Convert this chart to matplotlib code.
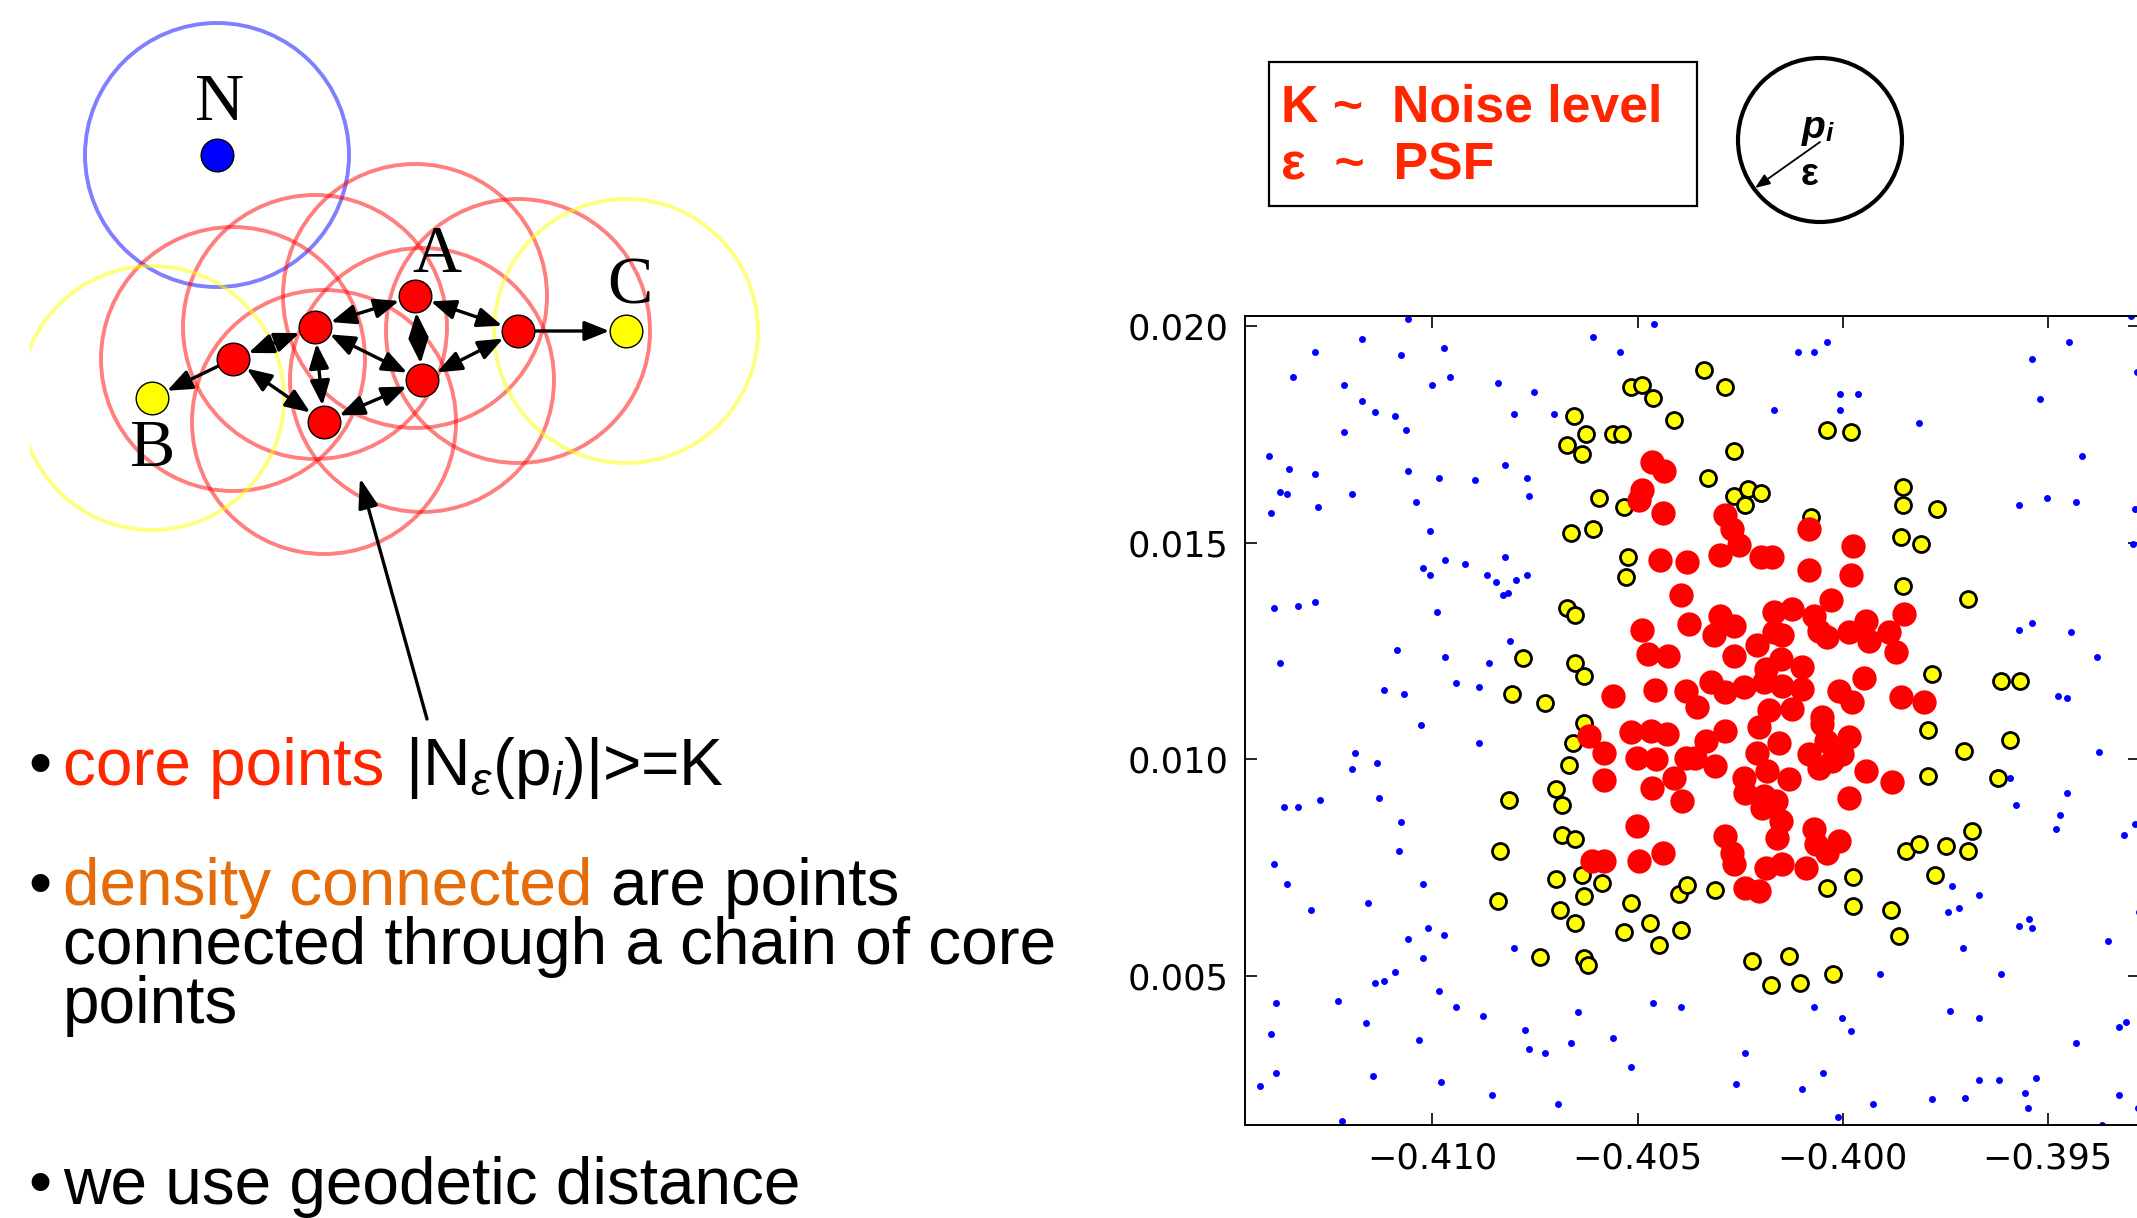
#DBSCAN slide: sketch of core/border/noise points + clustering result

import numpy as np
import matplotlib
matplotlib.use('Agg')
import matplotlib.pyplot as plt
from matplotlib.patches import Circle, Rectangle

plt.rcParams['mathtext.fontset'] = 'custom'
plt.rcParams['mathtext.rm'] = 'Liberation Sans'
plt.rcParams['mathtext.it'] = 'Liberation Sans:italic'
plt.rcParams['mathtext.bf'] = 'Liberation Sans:bold'

# ---- scatter data ----
noise_x = [-0.41060, -0.41172, -0.41286, -0.41076, -0.40973, -0.41339, -0.41216, -0.41000, -0.40957, -0.41172,
           -0.41140, -0.41092, -0.41065, -0.41216, -0.41398, -0.41350, -0.41286, -0.41060, -0.40984, -0.41372,
           -0.41355, -0.41195, -0.41039, -0.41393, -0.41280, -0.41006, -0.40969, -0.40921, -0.41022, -0.41006,
           -0.41387, -0.41328, -0.41286, -0.40990, -0.41372, -0.41087, -0.40969, -0.40942, -0.41118, -0.41070,
           -0.40459, -0.40608, -0.40543, -0.40839, -0.40753, -0.40801, -0.40704, -0.40822, -0.40897, -0.40769,
           -0.40764, -0.40822, -0.40866, -0.40844, -0.40796, -0.40769, -0.40828, -0.40817, -0.40812, -0.40861,
           -0.40887,
           -0.40038, -0.40108, -0.40070, -0.40006, -0.39963, -0.40168, -0.40006,
           -0.39448, -0.39539, -0.39282, -0.39518, -0.39813, -0.39416, -0.39501, -0.39571, -0.39432, -0.39287,
           -0.39292, -0.39298, -0.39571, -0.39539, -0.39443, -0.39379, -0.39475, -0.39453,
           -0.41027, -0.41189, -0.41135, -0.41195, -0.41130, -0.41361, -0.41328, -0.41275, -0.41076, -0.41082,
           -0.41387, -0.41355, -0.41022, -0.41157, -0.41296, -0.41012, -0.40973, -0.41060, -0.41022, -0.41092,
           -0.41140, -0.41118, -0.41382, -0.41231, -0.40985, -0.40942, -0.41162, -0.41393, -0.41034, -0.41382,
           -0.41146, -0.41420, -0.40979, -0.41221,
           -0.40887, -0.40802, -0.40877, -0.40646, -0.40774, -0.40764, -0.40726, -0.40662, -0.40560, -0.40463,
           -0.40393, -0.40517, -0.40856, -0.40695,
           -0.39910, -0.40071, -0.40001, -0.39979, -0.40238, -0.40049, -0.40259, -0.40098, -0.39926, -0.40011,
           -0.39374, -0.39593, -0.39453, -0.39577, -0.39470, -0.39480, -0.39287, -0.39314, -0.39733, -0.39668,
           -0.39743, -0.39716, -0.39545, -0.39571, -0.39539, -0.39278, -0.39352, -0.39706, -0.39615, -0.39738,
           -0.39668, -0.39325, -0.39309, -0.39431, -0.39668, -0.39619, -0.39528, -0.39555, -0.39549, -0.39781,
           -0.39701, -0.39325, -0.39279, -0.39367]
noise_y = [0.02016, 0.01970, 0.01939, 0.01934, 0.01950, 0.01883, 0.01863, 0.01863, 0.01883, 0.01827,
           0.01802, 0.01792, 0.01761, 0.01756, 0.01700, 0.01669, 0.01659, 0.01665, 0.01649, 0.01618,
           0.01613, 0.01613, 0.01593, 0.01568, 0.01583, 0.01527, 0.01461, 0.01451, 0.01441, 0.01425,
           0.01349, 0.01354, 0.01364, 0.01339, 0.01222, 0.01253, 0.01237, 0.01176, 0.01161, 0.01151,
           0.02005, 0.01974, 0.01939, 0.01868, 0.01847, 0.01796, 0.01796, 0.01679, 0.01644, 0.01649,
           0.01608, 0.01466, 0.01425, 0.01410, 0.01415, 0.01425, 0.01380, 0.01385, 0.01273, 0.01222,
           0.01166,
           0.01964, 0.01939, 0.01939, 0.01843, 0.01843, 0.01807, 0.01807,
           0.01964, 0.01923, 0.01893, 0.01832, 0.01776, 0.01700, 0.01603, 0.01588, 0.01593, 0.01578,
           0.01497, 0.02023, 0.01299, 0.01314, 0.01293, 0.01237, 0.01146, 0.01141,
           0.01080, 0.01014, 0.00993, 0.00977, 0.00912, 0.00891, 0.00891, 0.00906, 0.00856, 0.00789,
           0.00759, 0.00713, 0.00713, 0.00668, 0.00652, 0.00612, 0.00596, 0.00586, 0.00541, 0.00510,
           0.00485, 0.00490, 0.00439, 0.00444, 0.00465, 0.00429, 0.00393, 0.00367, 0.00352, 0.00277,
           0.00271, 0.00246, 0.00256, 0.00165,
           0.01038, 0.00566, 0.00408, 0.00418, 0.00377, 0.00332, 0.00322, 0.00347, 0.00357, 0.00438,
           0.00428, 0.00291, 0.00226, 0.00205,
           0.00505, 0.00429, 0.00404, 0.00373, 0.00322, 0.00277, 0.00251, 0.00241, 0.00206, 0.00175,
           0.01018, 0.00957, 0.00922, 0.00896, 0.00871, 0.00840, 0.00850, 0.00825, 0.00709, 0.00688,
           0.00648, 0.00658, 0.00632, 0.00617, 0.00612, 0.00648, 0.00582, 0.00566, 0.00505, 0.00419,
           0.00404, 0.00383, 0.00394, 0.00347, 0.00261, 0.00261, 0.00266, 0.00231, 0.00195, 0.00216,
           0.00220, 0.00226, 0.00195, 0.00157]

border_x = [-0.40517, -0.40490, -0.40463, -0.40410, -0.40656, -0.40625, -0.40560, -0.40538, -0.40673, -0.40635,
            -0.40593, -0.40533, -0.40662, -0.40609, -0.40523, -0.40529, -0.40673, -0.40652, -0.40780, -0.40652,
            -0.40630, -0.40807, -0.40726, -0.40630,
            -0.40339, -0.40286, -0.40039, -0.39979, -0.40264, -0.40329, -0.40264, -0.40231, -0.40199, -0.40238,
            -0.40078, -0.39852, -0.39852, -0.39857, -0.39852,
            -0.39771, -0.39808, -0.39695, -0.39781, -0.39615, -0.39567,
            -0.40657, -0.40668, -0.40700, -0.40684, -0.40813, -0.40684, -0.40652, -0.40835, -0.40700, -0.40635,
            -0.40586, -0.40630, -0.40840, -0.40690, -0.40652, -0.40517, -0.40533, -0.40469, -0.40448, -0.40738,
            -0.40630, -0.40620, -0.40399, -0.40379, -0.40393,
            -0.40312, -0.40039, -0.39975, -0.39975, -0.39883, -0.39862, -0.39846, -0.40222, -0.40131, -0.40174,
            -0.40104, -0.40023,
            -0.39793, -0.39705, -0.39593, -0.39793, -0.39620, -0.39684, -0.39813, -0.39749, -0.39695, -0.39775]
border_y = [0.01858, 0.01863, 0.01833, 0.01782, 0.01792, 0.01751, 0.01751, 0.01751, 0.01725, 0.01705,
            0.01603, 0.01583, 0.01522, 0.01532, 0.01466, 0.01421, 0.01349, 0.01334, 0.01233, 0.01222,
            0.01192, 0.01151, 0.01131, 0.01085,
            0.01899, 0.01858, 0.01761, 0.01756, 0.01711, 0.01649, 0.01608, 0.01625, 0.01614, 0.01588,
            0.01559, 0.01629, 0.01588, 0.01512, 0.01400,
            0.01578, 0.01497, 0.01370, 0.01196, 0.01182, 0.01182,
            0.01038, 0.00987, 0.00932, 0.00896, 0.00906, 0.00826, 0.00816, 0.00790, 0.00724, 0.00734,
            0.00714, 0.00684, 0.00673, 0.00653, 0.00622, 0.00669, 0.00602, 0.00622, 0.00571, 0.00545,
            0.00541, 0.00525, 0.00689, 0.00710, 0.00607,
            0.00699, 0.00704, 0.00729, 0.00663, 0.00652, 0.00592, 0.00790, 0.00536, 0.00546, 0.00480,
            0.00485, 0.00505,
            0.01069, 0.01019, 0.01044, 0.00963, 0.00957, 0.00836, 0.00805, 0.00800, 0.00790, 0.00734]

core_x = [-0.40464, -0.40436, -0.40490, -0.40497, -0.40437, -0.40446, -0.40379, -0.40395, -0.40375, -0.40490,
          -0.40474, -0.40425, -0.40560, -0.40458, -0.40383,
          -0.40286, -0.40269, -0.40253, -0.40298, -0.40200, -0.40172, -0.40082, -0.39974, -0.40082, -0.39979,
          -0.40298, -0.40265, -0.40314, -0.40168, -0.40123, -0.40168, -0.40070, -0.40029, -0.40058, -0.40037,
          -0.40147, -0.39984, -0.39944, -0.39936, -0.39887, -0.39870, -0.39850, -0.40208, -0.40265, -0.40151,
          -0.40188, -0.40098, -0.39948, -0.40322, -0.40286, -0.40241, -0.40192, -0.40147, -0.40098, -0.40009,
          -0.39976, -0.39858, -0.40180, -0.40123, -0.40050, -0.40355,
          -0.39801,
          -0.40619, -0.40582, -0.40582, -0.40517, -0.40468, -0.40428, -0.40501, -0.40456, -0.40464, -0.40411,
          -0.40391, -0.40383, -0.40501, -0.40611, -0.40582, -0.40497, -0.40437,
          -0.40286, -0.40334, -0.40204, -0.40359, -0.40310, -0.40208, -0.40155, -0.40241, -0.40184, -0.40131,
          -0.40237, -0.40192, -0.40163, -0.40196, -0.40151, -0.40159, -0.40082, -0.40058, -0.40025, -0.40041,
          -0.39984, -0.40001, -0.40050, -0.39944, -0.39879, -0.39984, -0.40286, -0.40269, -0.40265, -0.40070,
          -0.40066, -0.40037, -0.40009, -0.40188, -0.40147, -0.40090, -0.40237, -0.40204]
core_y = [0.01686, 0.01665, 0.01621, 0.01598, 0.01568, 0.01461, 0.01455, 0.01380, 0.01313, 0.01298,
          0.01243, 0.01238, 0.01146, 0.01161, 0.01159,
          0.01563, 0.01532, 0.01494, 0.01472, 0.01467, 0.01467, 0.01532, 0.01492, 0.01436, 0.01426,
          0.01332, 0.01309, 0.01286, 0.01340, 0.01347, 0.01294, 0.01332, 0.01367, 0.01297, 0.01282,
          0.01286, 0.01294, 0.01320, 0.01274, 0.01294, 0.01247, 0.01336, 0.01263, 0.01238, 0.01232,
          0.01209, 0.01213, 0.01189, 0.01178, 0.01155, 0.01166, 0.01178, 0.01170, 0.01163, 0.01159,
          0.01132, 0.01143, 0.01113, 0.01116, 0.01097, 0.01120,
          0.01132,
          0.01054, 0.01014, 0.00952, 0.01064, 0.01066, 0.01058, 0.01004, 0.01000, 0.00935, 0.00958,
          0.00904, 0.01004, 0.00846, 0.00766, 0.00766, 0.00766, 0.00785,
          0.01066, 0.01043, 0.01074, 0.01004, 0.00985, 0.01016, 0.01039, 0.00958, 0.00973, 0.00954,
          0.00923, 0.00916, 0.00904, 0.00889, 0.00858, 0.00819, 0.01012, 0.00981, 0.00997, 0.01043,
          0.01051, 0.01012, 0.01081, 0.00973, 0.00947, 0.00912, 0.00823, 0.00785, 0.00758, 0.00839,
          0.00804, 0.00785, 0.00812, 0.00750, 0.00758, 0.00750, 0.00704, 0.00696]

x_ticks = [-0.410, -0.405, -0.400, -0.395]
y_ticks = [0.005, 0.010, 0.015, 0.020]

# ---- sketch of the DBSCAN idea (slide pixel coordinates) ----
core_nodes = [(233, 359), (315, 327), (415, 296), (518, 331), (422, 380), (324, 422)]
border_nodes = [(152, 398), (626, 331)]
noise_node = (217, 155)
links = [(0, 1), (1, 2), (2, 3), (2, 4), (1, 4), (1, 5), (0, 5), (5, 4), (4, 3)]
to_border = [(0, 0), (3, 1)]
node_labels = [('N', 220, 120), ('A', 437, 272), ('B', 152, 466), ('C', 630, 303)]
eps_r = 132

RED = '#ff2600'
ORANGE = '#e46c0a'

fig = plt.figure(figsize=(21.37, 12.18), dpi=100)

# full-figure canvas in pixel units for the slide drawing
cv = fig.add_axes([0, 0, 1, 1])
cv.set_xlim(0, 2137)
cv.set_ylim(1218, 0)
cv.axis('off')

clip = Rectangle((30, 0), 760, 600, transform=cv.transData)

def ring(xy, color):
    c = Circle(xy, eps_r, fill=False, ec=color, lw=2.8, alpha=0.5)
    cv.add_patch(c)
    c.set_clip_path(clip)

ring(noise_node, 'blue')
for p in core_nodes:
    ring(p, 'red')
for p in border_nodes:
    ring(p, 'yellow')

arr = dict(lw=2.4, color='black', shrinkA=12, shrinkB=12, mutation_scale=10)
for i, j in links:
    cv.annotate('', xy=core_nodes[j], xytext=core_nodes[i],
                arrowprops=dict(arrowstyle='<|-|>,head_length=1.5,head_width=0.6', **arr))
for i, j in to_border:
    cv.annotate('', xy=border_nodes[j], xytext=core_nodes[i],
                arrowprops=dict(arrowstyle='-|>,head_length=1.5,head_width=0.6', **arr))

for p in core_nodes:
    cv.plot(*p, 'o', ms=23.5, mfc='red', mec='black', mew=1, zorder=5)
for p in border_nodes:
    cv.plot(*p, 'o', ms=23.5, mfc='yellow', mec='black', mew=1, zorder=5)
cv.plot(*noise_node, 'o', ms=23.5, mfc='blue', mec='black', mew=1, zorder=5)

for lab, x, y in node_labels:
    cv.text(x, y, lab, fontsize=49, family='Liberation Serif', ha='center', va='baseline')

# long pointer arrow
cv.annotate('', xy=(360, 478), xytext=(427, 719),
            arrowprops=dict(arrowstyle='-|>,head_length=1.8,head_width=0.6', lw=2.4,
                            color='black', shrinkA=0, shrinkB=0, mutation_scale=10))

# bullet text
fs = 47.3
body = dict(fontsize=fs, family='Liberation Sans', va='baseline')
cv.text(28, 785, '\u2022', **body)
cv.text(63, 785, 'core points', color=RED, **body)
cv.text(405, 785, r'|N$_{ε}$(p$_{i}$)|>=K', color='black', **body)
cv.text(28, 905, '\u2022', **body)
cv.text(63, 905, 'density connected', color=ORANGE, **body)
cv.text(611, 905, 'are points', color='black', **body)
cv.text(63, 964, 'connected through a chain of core', color='black', **body)
cv.text(63, 1023, 'points', color='black', **body)
cv.text(28, 1204, '\u2022', **body)
cv.text(63, 1204, 'we use geodetic distance', color='black', **body)

# parameter box
cv.add_patch(Rectangle((1269, 62), 428, 144, fill=False, ec='black', lw=1.6))
box = dict(fontsize=37.4, family='Liberation Sans', weight='bold', color=RED, va='baseline')
cv.text(1281, 121, 'K ~  Noise level', **box)
cv.text(1281, 180, 'ε  ~  PSF', **box)

# eps-neighbourhood circle
cv.add_patch(Circle((1820, 140), 82, fill=False, ec='black', lw=3))
cv.text(1802, 138, 'p', fontsize=28, family='Liberation Sans', weight='bold', style='italic', va='baseline')
cv.text(1826, 141, 'i', fontsize=19, family='Liberation Sans', weight='bold', style='italic', va='baseline')
cv.text(1810, 185, 'ε', fontsize=27, family='Liberation Sans', weight='bold', ha='center', va='baseline')
cv.annotate('', xy=(1755, 188), xytext=(1820, 142),
            arrowprops=dict(arrowstyle='-|>,head_length=0.9,head_width=0.35', lw=1.3,
                            color='black', shrinkA=0, shrinkB=0, mutation_scale=10))

# ---- scatter panel ----
ax = fig.add_axes([0.5826, 0.0764, 0.4188, 0.6642])
ax.plot(border_x, border_y, 'o', ms=11.5, mfc='yellow', mec='black', mew=2)
ax.plot(core_x, core_y, 'o', ms=17.5, mfc='red', mec='red', mew=0)
ax.plot(noise_x, noise_y, 'o', ms=5, mfc='blue', mec='blue', mew=0)

ax.set_xlim(-0.41457, -0.39275)
ax.set_ylim(0.00157, 0.02023)
ax.set_xticks(x_ticks)
ax.set_yticks(y_ticks)
ax.xaxis.set_major_formatter(plt.FuncFormatter(lambda v, p: ('%.3f' % v).replace('-', '\u2212')))
ax.yaxis.set_major_formatter(plt.FuncFormatter(lambda v, p: '%.3f' % v))
ax.tick_params(direction='in', length=8.5, width=1.2, top=True, right=True,
               labelsize=25.3, pad=12)
for s in ax.spines.values():
    s.set_linewidth(1.4)

fig.savefig('out.png', dpi=100)
